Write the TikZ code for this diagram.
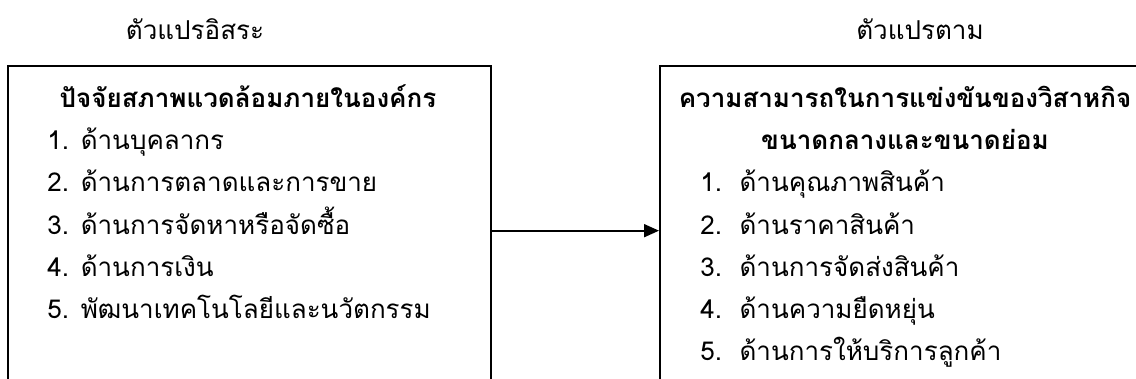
\documentclass[tikz,border=0pt]{standalone}
\usepackage{fontspec}
\newfontfamily\thaifont[Script=Thai]{Loma}
\usetikzlibrary{arrows.meta}
\usetikzlibrary{positioning}

\begin{document}
\begin{tikzpicture}[x=0.5pt,y=0.5pt,
                    every node/.style={inner sep=0pt},
                    thai/.style={font=\thaifont\fontsize{13}{15}\selectfont},
                    thai bold/.style={font=\thaifont\bfseries\fontsize{13}{15}\selectfont},
                    frame/.style={draw,line width=0.9pt,anchor=north west,
                                  minimum height=220pt,minimum width=#1},
                    link/.style={line width=0.9pt,-{Triangle[length=7.5pt,width=6.5pt]}}]
% Page size; the two frames run on past the bottom edge
\useasboundingbox (0,0) rectangle (1136,379);
\clip (0,0) rectangle (1136,379);
% The frames
\node [frame=241.5pt] (left frame) at (7,314) {};
\node [frame=246pt] (right frame) at (659,314) {};
% Headings over the frames
\node [thai,anchor=base] (left head) at (195,339) {ตัวแปรอิสระ};
\node [thai,anchor=base] (right head) at (920,339) {ตัวแปรตาม};
% Titles inside the frames
\node [thai bold,anchor=base] (left title) at (248,271) {ปัจจัยสภาพแวดล้อมภายในองค์กร};
\node [thai bold,anchor=base] (right title 1) at (905,271) {ความสามารถในการแข่งขันของวิสาหกิจ};
\node [thai bold,anchor=base] (right title 2) at (905,229) {ขนาดกลางและขนาดย่อม};
% Lists
\foreach \n/\y/\txt in {1/229/ด้านบุคลากร,
                        2/187/ด้านการตลาดและการขาย,
                        3/144/ด้านการจัดหาหรือจัดซื้อ,
                        4/102/ด้านการเงิน,
                        5/60/พัฒนาเทคโนโลยีและนวัตกรรม}
{
      \node [thai,anchor=base west] (left item \n) at (47,\y) {\n. \txt};
}
\foreach \n/\y/\txt in {1/187/ด้านคุณภาพสินค้า,
                        2/144/ด้านราคาสินค้า,
                        3/102/ด้านการจัดส่งสินค้า,
                        4/60/ด้านความยืดหยุ่น,
                        5/18/ด้านการให้บริการลูกค้า}
{
      \node [thai,anchor=base west] (right item \n) at (700,\y) {\n.\ \ \txt};
}
% Link between the frames
\draw [link] (left frame.east |- left item 3.mid) -- (right frame.west |- left item 3.mid);
\end{tikzpicture}
\end{document}
